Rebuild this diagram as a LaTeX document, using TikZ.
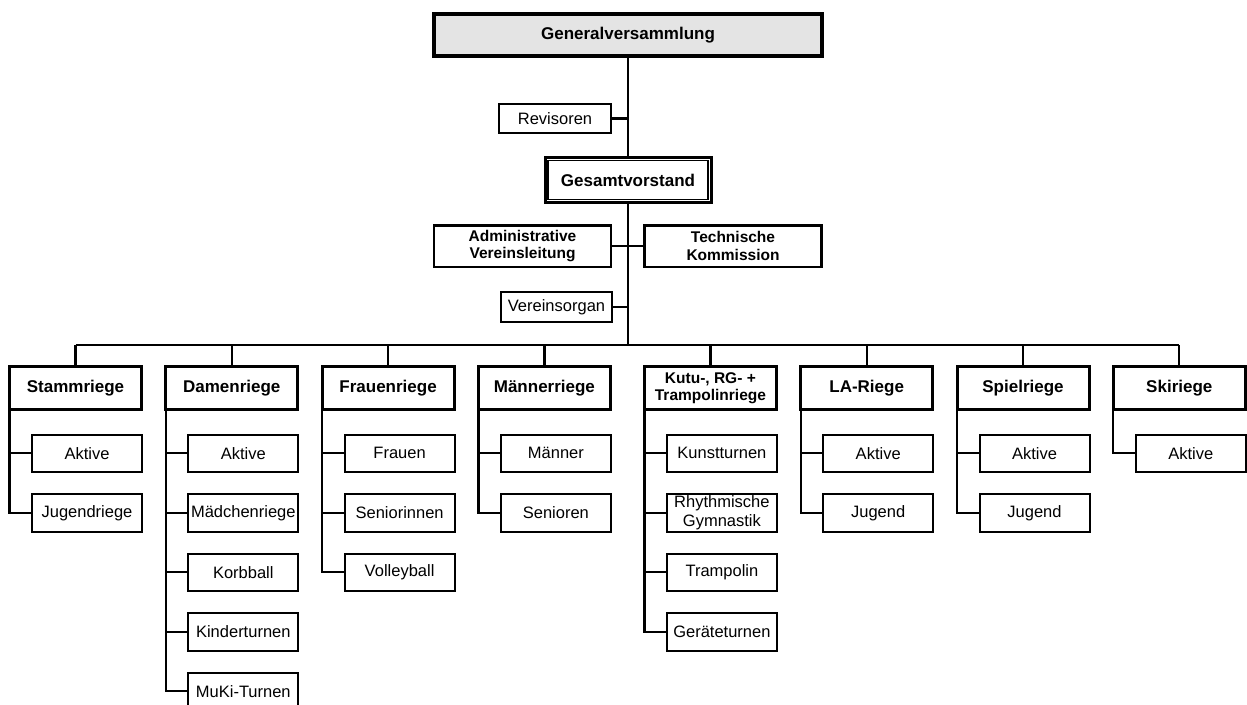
\documentclass[tikz,border=0pt]{standalone}
\usepackage{fontspec}
\setmainfont{Liberation Sans}
\usepackage{tikz}
\usetikzlibrary{positioning,calc}
\definecolor{ink}{HTML}{000000}
\definecolor{shade}{HTML}{E4E4E4}

\begin{document}
\begin{tikzpicture}[
  x=1pt, y=1pt,
  node distance=20pt and 21.3pt,
  box/.style={draw=ink, line width=2pt, align=center, inner sep=1pt, fill=white, font=\fontsize{16.5}{19}\selectfont},
  hd/.style={box, line width=3pt, minimum width=132pt, minimum height=43pt, font=\bfseries\fontsize{17}{19}\selectfont},
  sb/.style={box, minimum width=110pt, minimum height=37.5pt},
  mid/.style={box, line width=2.5pt, minimum width=177pt, minimum height=41.5pt, font=\bfseries\fontsize{15.5}{17.5}\selectfont},
  ln/.style={line width=2.2pt, ink}
]
  \useasboundingbox (0,0) rectangle (1247,-704);

  \node[box, line width=4pt, fill=shade, minimum width=388pt, minimum height=42pt, font=\bfseries\fontsize{17}{19}\selectfont] (gv) at (628,-35) {Generalversammlung};
  \node[box, minimum width=112pt, minimum height=29pt] (rev) at (555,-118.5) {Revisoren};
  \node[box, line width=3pt, minimum width=166pt, minimum height=45pt, font=\bfseries\fontsize{17}{19}\selectfont] (gs) at (628,-180) {Gesamtvorstand};
  \draw[line width=1.2pt] ([shift={(4.5pt,4.5pt)}]gs.south west) rectangle ([shift={(-4.5pt,-4.5pt)}]gs.north east);
  \node[mid] (adm) at (522.5,-246) {Administrative\\Vereinsleitung};
  \node[mid] (tk) at (733,-246) {Technische\\Kommission};
  \node[box, minimum width=111pt, minimum height=30pt] (vo) at (556.5,-307) {Vereinsorgan};
  \coordinate (bus) at (628,-345);

  % riegen
  \node[hd] (st) at (75.5,-388) {Stammriege};
  \node[hd, right=of st] (da) {Damenriege};
  \node[hd, right=of da] (fr) {Frauenriege};
  \node[hd, right=of fr] (ma) {Männerriege};
  \node[hd, right=31pt of ma, font=\bfseries\fontsize{15.5}{17.5}\selectfont] (ku) {Kutu-, RG- +\\Trampolinriege};
  \node[hd, right=of ku] (la) {LA-Riege};
  \node[hd, right=of la] (sp) {Spielriege};
  \node[hd, right=of sp] (sk) {Skiriege};

  % untergruppen
  \node[sb, anchor=north east] (st1) at ([yshift=-22.5pt]st.south east) {Aktive};
  \node[sb, below=of st1] (st2) {Jugendriege};
  \node[sb, anchor=north east] (da1) at ([yshift=-22.5pt]da.south east) {Aktive};
  \node[sb, below=of da1] (da2) {Mädchenriege};
  \node[sb, below=of da2] (da3) {Korbball};
  \node[sb, below=of da3] (da4) {Kinderturnen};
  \node[sb, below=of da4] (da5) {MuKi-Turnen};
  \node[sb, anchor=north east] (fr1) at ([yshift=-22.5pt]fr.south east) {Frauen};
  \node[sb, below=of fr1] (fr2) {Seniorinnen};
  \node[sb, below=of fr2] (fr3) {Volleyball};
  \node[sb, anchor=north east] (ma1) at ([yshift=-22.5pt]ma.south east) {Männer};
  \node[sb, below=of ma1] (ma2) {Senioren};
  \node[sb, anchor=north east] (ku1) at ([yshift=-22.5pt]ku.south east) {Kunstturnen};
  \node[sb, below=of ku1] (ku2) {Rhythmische\\Gymnastik};
  \node[sb, below=of ku2] (ku3) {Trampolin};
  \node[sb, below=of ku3] (ku4) {Geräteturnen};
  \node[sb, anchor=north east] (la1) at ([yshift=-22.5pt]la.south east) {Aktive};
  \node[sb, below=of la1] (la2) {Jugend};
  \node[sb, anchor=north east] (sp1) at ([yshift=-22.5pt]sp.south east) {Aktive};
  \node[sb, below=of sp1] (sp2) {Jugend};
  \node[sb, anchor=north east] (sk1) at ([yshift=-22.5pt]sk.south east) {Aktive};

  % stamm
  \draw[ln] (gv.south) -- (gs.north);
  \draw[ln] (gs.south) -- (bus);
  \draw[ln] (rev.east) -- (rev.east -| gs.north);
  \draw[ln] (adm.east) -- (tk.west);
  \draw[ln] (vo.east) -- (vo.east -| gs.south);
  \draw[ln] (st.north |- bus) -- (sk.north |- bus);
  \draw[ln] (st.north) -- (st.north |- bus);
  \draw[ln] (da.north) -- (da.north |- bus);
  \draw[ln] (fr.north) -- (fr.north |- bus);
  \draw[ln] (ma.north) -- (ma.north |- bus);
  \draw[ln] (ku.north) -- (ku.north |- bus);
  \draw[ln] (la.north) -- (la.north |- bus);
  \draw[ln] (sp.north) -- (sp.north |- bus);
  \draw[ln] (sk.north) -- (sk.north |- bus);

  % aeste
  \draw[ln] ([xshift=1.5pt]st.south west) |- (st1.west);
  \draw[ln] ([xshift=1.5pt]st.south west) |- (st2.west);
  \draw[ln] ([xshift=1.5pt]da.south west) |- (da1.west);
  \draw[ln] ([xshift=1.5pt]da.south west) |- (da2.west);
  \draw[ln] ([xshift=1.5pt]da.south west) |- (da3.west);
  \draw[ln] ([xshift=1.5pt]da.south west) |- (da4.west);
  \draw[ln] ([xshift=1.5pt]da.south west) |- (da5.west);
  \draw[ln] ([xshift=1.5pt]fr.south west) |- (fr1.west);
  \draw[ln] ([xshift=1.5pt]fr.south west) |- (fr2.west);
  \draw[ln] ([xshift=1.5pt]fr.south west) |- (fr3.west);
  \draw[ln] ([xshift=1.5pt]ma.south west) |- (ma1.west);
  \draw[ln] ([xshift=1.5pt]ma.south west) |- (ma2.west);
  \draw[ln] ([xshift=1.5pt]ku.south west) |- (ku1.west);
  \draw[ln] ([xshift=1.5pt]ku.south west) |- (ku2.west);
  \draw[ln] ([xshift=1.5pt]ku.south west) |- (ku3.west);
  \draw[ln] ([xshift=1.5pt]ku.south west) |- (ku4.west);
  \draw[ln] ([xshift=1.5pt]la.south west) |- (la1.west);
  \draw[ln] ([xshift=1.5pt]la.south west) |- (la2.west);
  \draw[ln] ([xshift=1.5pt]sp.south west) |- (sp1.west);
  \draw[ln] ([xshift=1.5pt]sp.south west) |- (sp2.west);
  \draw[ln] ([xshift=1.5pt]sk.south west) |- (sk1.west);
\end{tikzpicture}
\end{document}
